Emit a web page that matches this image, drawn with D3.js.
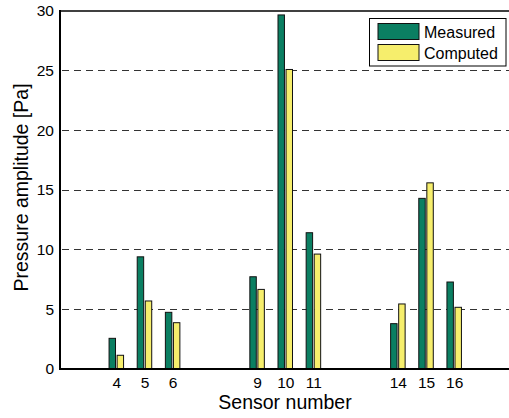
<!DOCTYPE html>
<html>
<head>
<meta charset="utf-8">
<script src="https://cdnjs.cloudflare.com/ajax/libs/d3/7.8.5/d3.min.js"></script>
<style>
  html, body { margin: 0; padding: 0; background: #fff; }
  svg { display: block; font-family: "Liberation Sans", Arial, Helvetica, sans-serif; }
</style>
</head>
<body>
<svg id="chart" width="509" height="418"></svg>
<script>
// Sensor numbers along the x axis
const sensors = [4, 5, 6, 9, 10, 11, 14, 15, 16];
// Pressure amplitudes [Pa]
const measured = [2.57, 9.4, 4.75, 7.73, 29.67, 11.42, 3.8, 14.3, 7.29];
const computed = [1.15, 5.7, 3.88, 6.67, 25.1, 9.63, 5.45, 15.6, 5.17];
const seriesNames = ["Measured", "Computed"];
const seriesColors = ["#0b7f62", "#f6ee6c"];
const yTicks = [0, 5, 10, 15, 20, 25, 30];

const svg = d3.select("#chart");
const plotL = 60, plotR = 510.5, plotT = 11, plotB = 369;

const x = d3.scaleLinear().domain([2, 18]).range([plotL, plotR]);
const y = d3.scaleLinear().domain([0, 30]).range([plotB, plotT]);

// Grouped bar geometry (in data units)
const barW = 0.229, offset = 0.143;

// Dashed grid lines
svg.append("g")
  .selectAll("line")
  .data(yTicks.filter(t => t > 0 && t < 30))
  .join("line")
  .attr("x1", plotL + 2).attr("x2", plotR)
  .attr("y1", d => y(d)).attr("y2", d => y(d))
  .attr("stroke", "#333").attr("stroke-width", 1)
  .attr("stroke-dasharray", "7,5")
  .attr("shape-rendering", "crispEdges");

// Bars
const series = [measured, computed];
series.forEach((vals, si) => {
  svg.append("g")
    .selectAll("rect")
    .data(sensors.map((s, i) => ({ s, v: vals[i] })))
    .join("rect")
    .attr("x", d => x(d.s + (si === 0 ? -offset : offset) - barW / 2))
    .attr("width", x(barW) - x(0))
    .attr("y", d => y(d.v))
    .attr("height", d => y(0) - y(d.v))
    .attr("fill", seriesColors[si])
    .attr("stroke", "#111")
    .attr("stroke-width", 1);
});

// Axes
const yAxis = d3.axisLeft(y).tickValues(yTicks).tickSize(0).tickPadding(6);
const gy = svg.append("g").attr("transform", `translate(${plotL},0)`).call(yAxis);
gy.select(".domain").remove();
gy.selectAll("text").attr("font-size", 15.5).attr("fill", "#000")
  .attr("font-family", "Liberation Sans, Arial, sans-serif");

const xAxis = d3.axisBottom(x).tickValues(sensors).tickSize(0).tickPadding(8);
const gx = svg.append("g").attr("transform", `translate(0,${plotB})`).call(xAxis);
gx.select(".domain").remove();
gx.selectAll("text").attr("font-size", 15.5).attr("fill", "#000")
  .attr("font-family", "Liberation Sans, Arial, sans-serif");

// Axis frame: left, bottom and top lines
svg.append("line").attr("x1", plotL).attr("x2", plotL).attr("y1", plotT - 1).attr("y2", plotB + 1)
  .attr("stroke", "#000").attr("stroke-width", 2);
svg.append("line").attr("x1", plotL).attr("x2", plotR).attr("y1", plotB).attr("y2", plotB)
  .attr("stroke", "#000").attr("stroke-width", 2);
svg.append("line").attr("x1", plotL).attr("x2", plotR).attr("y1", plotT).attr("y2", plotT)
  .attr("stroke", "#000").attr("stroke-width", 1.5);

// Axis labels
svg.append("text")
  .attr("x", 285).attr("y", 408.5)
  .attr("text-anchor", "middle").attr("font-size", 19.5)
  .text("Sensor number");
svg.append("text")
  .attr("transform", `translate(28,187.5) rotate(-90)`)
  .attr("text-anchor", "middle").attr("font-size", 19.5)
  .text("Pressure amplitude [Pa]");

// Legend
const lg = svg.append("g");
lg.append("rect").attr("x", 369.5).attr("y", 18.5).attr("width", 136.5).attr("height", 47.5)
  .attr("fill", "#fff").attr("stroke", "#000").attr("stroke-width", 1);
seriesNames.forEach((name, i) => {
  const yy = 23.5 + i * 21;
  lg.append("rect").attr("x", 378).attr("y", yy).attr("width", 41).attr("height", 16)
    .attr("fill", seriesColors[i]).attr("stroke", "#111").attr("stroke-width", 1);
  lg.append("text").attr("x", 424).attr("y", yy + 14).attr("font-size", 16).text(name);
});
</script>
</body>
</html>
